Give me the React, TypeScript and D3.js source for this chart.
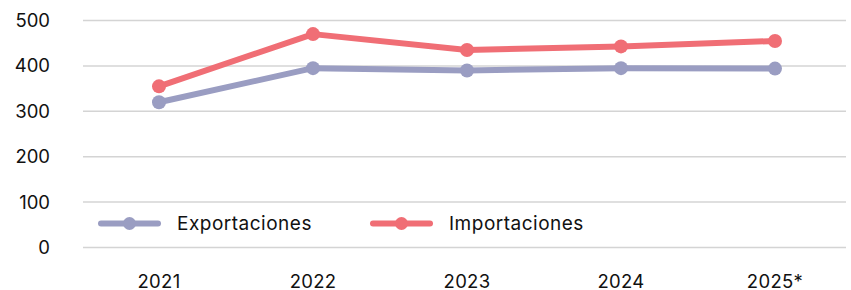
import React from "react";
import * as d3 from "d3";

const years = ["2021", "2022", "2023", "2024", "2025*"];
const exportaciones = [320, 395, 390, 395, 394];
const importaciones = [355, 470, 435, 443, 455];
const yTicks = [0, 100, 200, 300, 400, 500];

const W = 851;
const H = 290;
const colExp = "#9a9dc2";
const colImp = "#f06e75";
const font = "Inter, 'Liberation Sans', Arial, sans-serif";

const App = () => {
  const x = d3.scaleBand().domain(years).range([82, 852]);
  const y = d3.scaleLinear().domain([0, 500]).range([247.5, 20.5]);
  const cx = (d: string) => (x(d) || 0) + x.bandwidth() / 2;

  const line = d3
    .line<number>()
    .x((d, i) => cx(years[i]))
    .y((d) => y(d));

  const series = [
    { name: "Exportaciones", values: exportaciones, color: colExp },
    { name: "Importaciones", values: importaciones, color: colImp },
  ];

  const legend = [
    { name: "Exportaciones", color: colExp, x: 98 },
    { name: "Importaciones", color: colImp, x: 370 },
  ];

  return (
    <svg
      width={W}
      height={H}
      style={{ position: "absolute", left: 0, top: 0 }}
      fontFamily={font}
    >
      <rect width={W} height={H} fill="#fff" />
      {yTicks.map((t) => (
        <g key={t}>
          <line
            x1={83}
            x2={846}
            y1={y(t)}
            y2={y(t)}
            stroke="#d4d4d4"
            strokeWidth={1.5}
          />
          <text
            x={50}
            y={y(t)}
            dy="0.35em"
            textAnchor="end"
            fontSize={18.5}
            fill="#111"
          >
            {t}
          </text>
        </g>
      ))}
      {years.map((yr) => (
        <text
          key={yr}
          x={cx(yr)}
          y={287.5}
          textAnchor="middle"
          fontSize={18.5}
          letterSpacing={0.3}
          fill="#111"
        >
          {yr}
        </text>
      ))}
      {series.map((s) => (
        <g key={s.name}>
          <path
            d={line(s.values) || ""}
            fill="none"
            stroke={s.color}
            strokeWidth={6}
            strokeLinejoin="round"
          />
          {s.values.map((v, i) => (
            <circle key={i} cx={cx(years[i])} cy={y(v)} r={7} fill={s.color} />
          ))}
        </g>
      ))}
      {legend.map((l) => (
        <g key={l.name}>
          <line
            x1={l.x + 3}
            x2={l.x + 60}
            y1={223.5}
            y2={223.5}
            stroke={l.color}
            strokeWidth={6}
            strokeLinecap="round"
          />
          <circle cx={l.x + 31.5} cy={223.5} r={6.5} fill={l.color} />
          <text
            x={l.x + 79}
            y={223.5}
            dy="0.35em"
            fontSize={19}
            letterSpacing={0.5}
            fill="#111"
          >
            {l.name}
          </text>
        </g>
      ))}
    </svg>
  );
};

export default App;
